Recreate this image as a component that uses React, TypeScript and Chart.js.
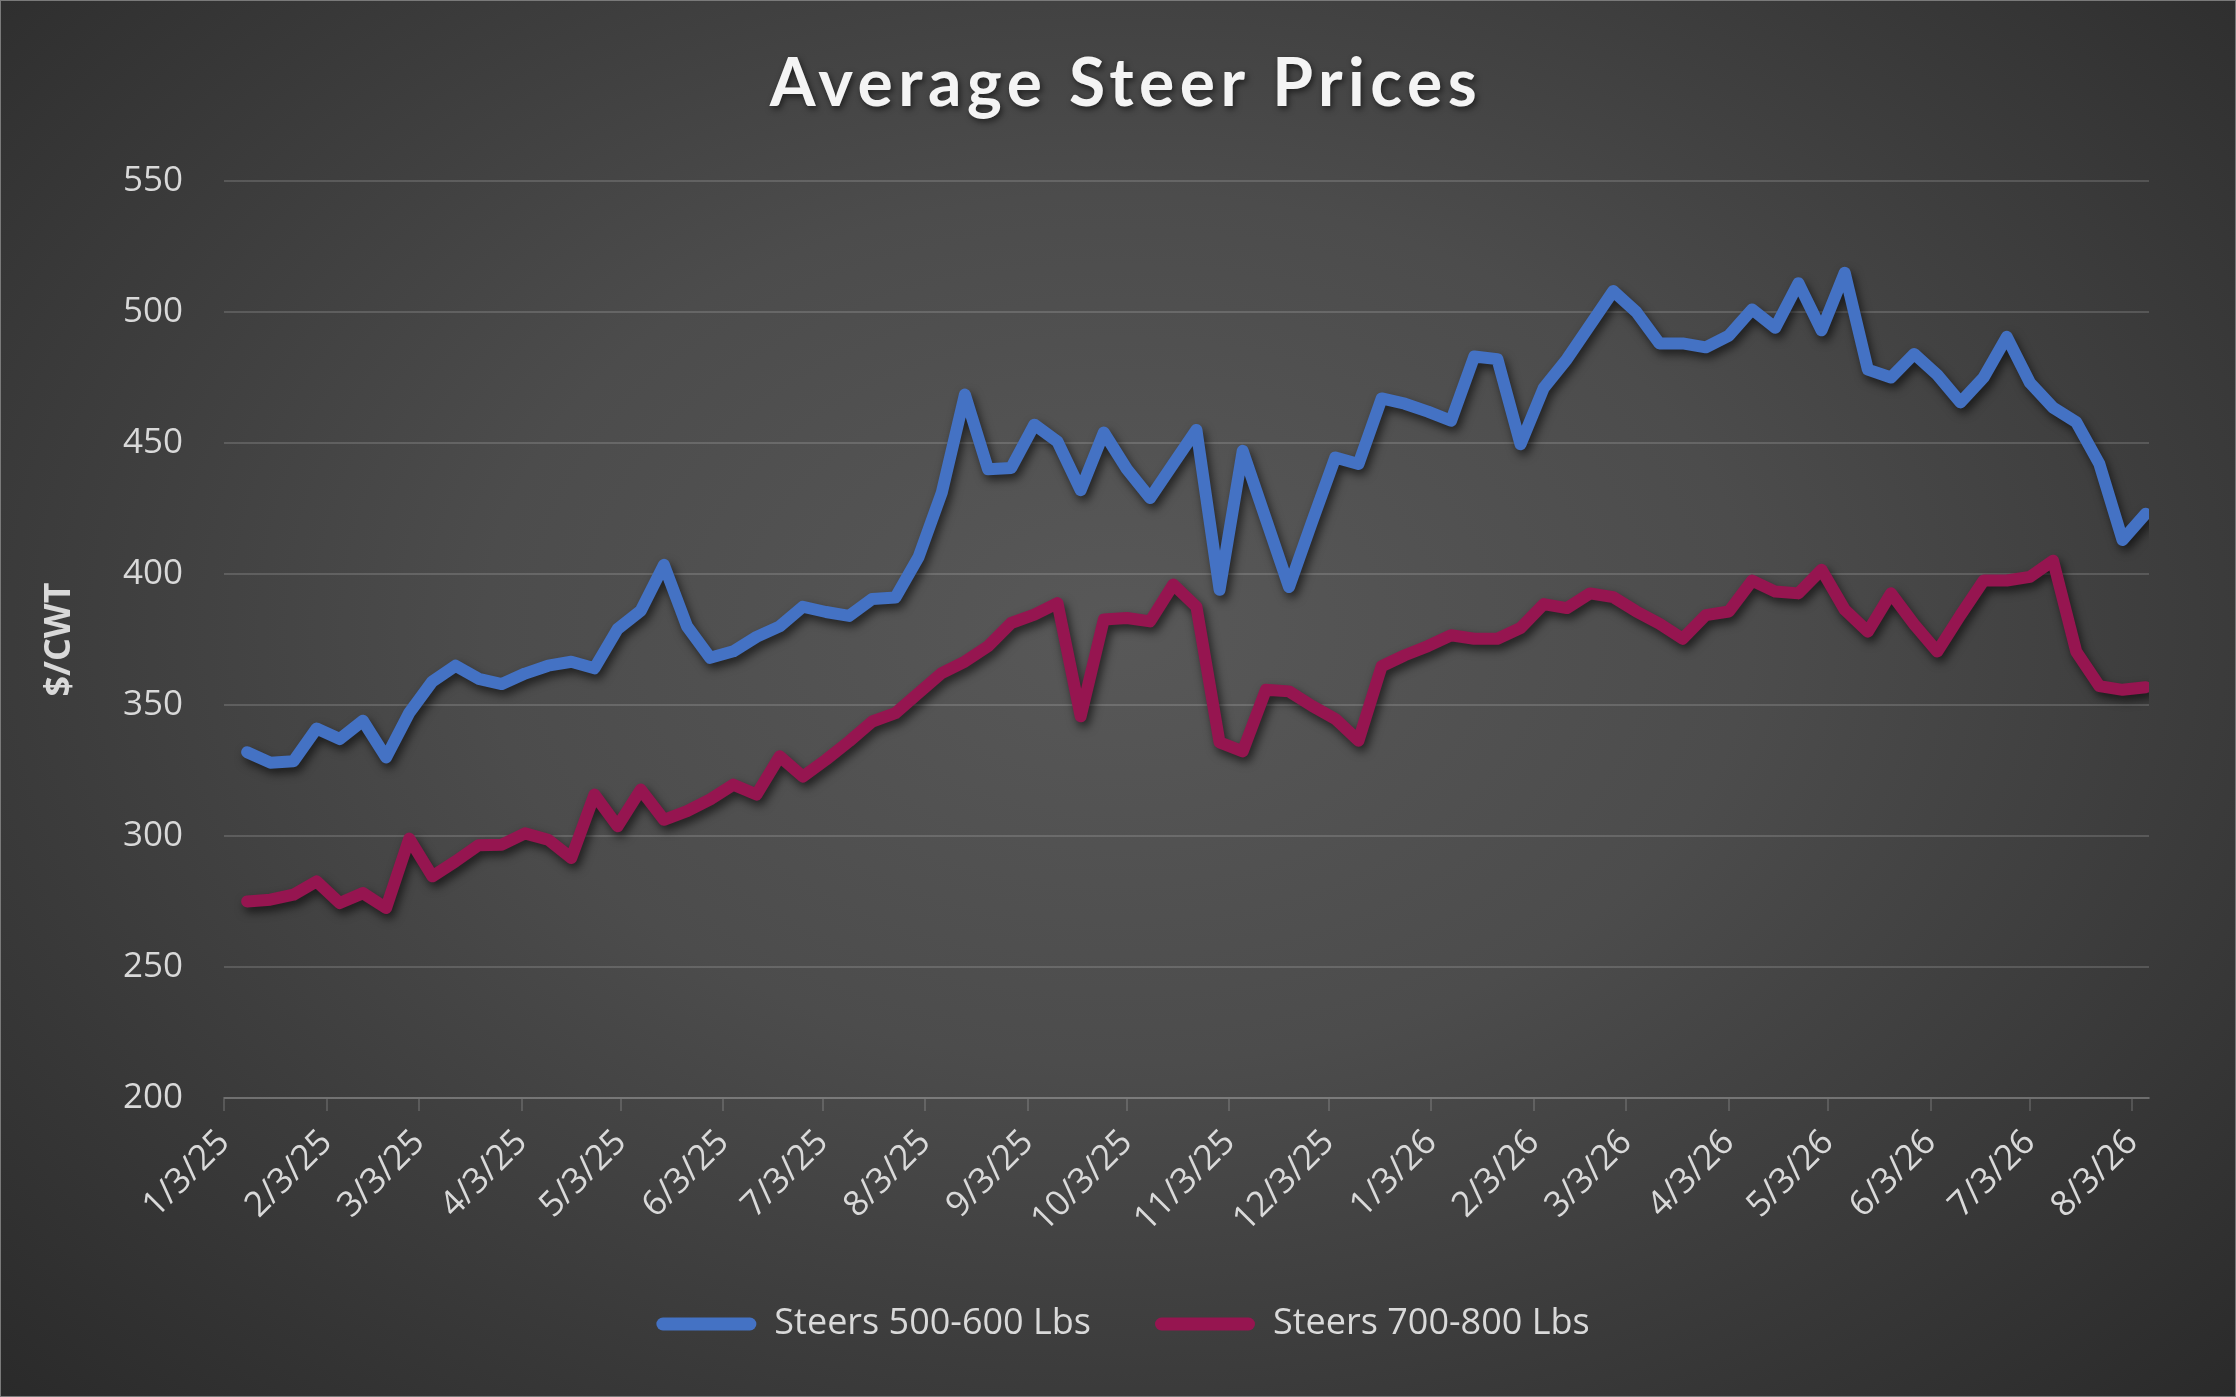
import { useEffect, useRef } from "react";
import { Chart, registerables } from "chart.js";

Chart.register(...registerables);

const TITLE = "Average Steer Prices";
const Y_TITLE = "$/CWT";
const SERIES_A = "Steers 500-600 Lbs";
const SERIES_B = "Steers 700-800 Lbs";

const weekDates = [
  "1/10/25", "1/17/25", "1/24/25", "1/31/25",
  "2/7/25", "2/14/25", "2/21/25", "2/28/25",
  "3/7/25", "3/14/25", "3/21/25", "3/28/25",
  "4/4/25", "4/11/25", "4/18/25", "4/25/25",
  "5/2/25", "5/9/25", "5/16/25", "5/23/25", "5/30/25",
  "6/6/25", "6/13/25", "6/20/25", "6/27/25",
  "7/4/25", "7/11/25", "7/18/25", "7/25/25",
  "8/1/25", "8/8/25", "8/15/25", "8/22/25", "8/29/25",
  "9/5/25", "9/12/25", "9/19/25", "9/26/25",
  "10/3/25", "10/10/25", "10/17/25", "10/24/25", "10/31/25",
  "11/7/25", "11/14/25", "11/21/25", "11/28/25",
  "12/5/25", "12/12/25", "12/19/25", "12/26/25",
  "1/2/26", "1/9/26", "1/16/26", "1/23/26", "1/30/26",
  "2/6/26", "2/13/26", "2/20/26", "2/27/26",
  "3/6/26", "3/13/26", "3/20/26", "3/27/26",
  "4/3/26", "4/10/26", "4/17/26", "4/24/26",
  "5/1/26", "5/8/26", "5/15/26", "5/22/26", "5/29/26",
  "6/5/26", "6/12/26", "6/19/26", "6/26/26",
  "7/3/26", "7/10/26", "7/17/26", "7/24/26", "7/31/26",
  "8/7/26",
];

const steers500600 = [
  332, 328, 328.5, 341, 337, 344, 330, 347, 359, 365,
  360, 358, 362, 365, 366.5, 364, 379, 386, 403.5, 380,
  368, 370.5, 376, 380, 387.5, 385.5, 384, 390.5, 391, 406.5,
  431, 468.5, 440, 440.5, 457, 450.5, 432, 454, 440, 429,
  442, 455, 394, 447, 421, 395, 420, 444.5, 442, 467,
  465, 462, 458.5, 483, 482, 449.5, 471, 482, 495, 508,
  500, 488, 488, 486.5, 491, 501, 494, 511, 493, 515,
  478, 475, 484, 476, 465.5, 475, 490.5, 473, 463.5, 458,
  442, 413, 423,
];

const steers700800 = [
  275, 275.7, 277.6, 282.7, 274.4, 278.2, 272.5, 299, 284.6, 290.3,
  296.5, 296.7, 301, 298.6, 291.6, 315.8, 303.7, 317.7, 306.2, 309.5,
  314, 319.6, 315.8, 330.4, 322.7, 329.1, 336.1, 343.7, 346.9, 354.6,
  362.2, 366.6, 372.4, 381.3, 384.5, 388.9, 345.7, 382.6, 383.2, 381.9,
  396, 387.5, 335.7, 332.3, 355.8, 355.2, 349.6, 344.7, 336.4, 364.8,
  369, 372.5, 376.6, 375.3, 375.3, 379.4, 388.5, 387, 392.6, 391.2,
  385.7, 381, 375.3, 384.3, 385.7, 397.5, 393.3, 392.6, 401.6, 386.4,
  378, 392.6, 380.8, 370.4, 384.3, 397.5, 397.5, 398.9, 405.1, 370.4,
  357.2, 355.8, 356.8,
];

const monthTickLabels = [
  "1/3/25", "2/3/25", "3/3/25", "4/3/25", "5/3/25", "6/3/25", "7/3/25",
  "8/3/25", "9/3/25", "10/3/25", "11/3/25", "12/3/25", "1/3/26", "2/3/26",
  "3/3/26", "4/3/26", "5/3/26", "6/3/26", "7/3/26", "8/3/26",
];

const AXIS_START = "1/3/25";
const AXIS_END = "8/8/26";
const Y_MIN = 200;
const Y_MAX = 550;
const Y_STEP = 50;

const BLUE = "#4472C4";
const MAROON = "#961550";
const TEXT = "#d9d9d9";
const GRID = "rgba(255,255,255,0.15)";

function toUTC(s: string): number {
  const [m, d, y] = s.split("/").map(Number);
  return Date.UTC(2000 + y, m - 1, d);
}
const BASE = toUTC(AXIS_START);
function dayOf(s: string): number {
  return Math.round((toUTC(s) - BASE) / 86400000);
}

const lineShadow = {
  id: "lineShadow",
  beforeDatasetDraw(chart: any) {
    const c = chart.ctx;
    c.save();
    c.shadowColor = "rgba(0,0,0,0.6)";
    c.shadowBlur = 10;
    c.shadowOffsetX = 3;
    c.shadowOffsetY = 5;
  },
  afterDatasetDraw(chart: any) {
    chart.ctx.restore();
  },
};

const legendCenter = {
  id: "legendCenter",
  afterLayout(chart: any) {
    const lg = chart.legend;
    if (lg) {
      lg.left = 10;
      lg.right = chart.width;
    }
  },
};

const spacedTitle = {
  id: "spacedTitle",
  afterDraw(chart: any) {
    const c = chart.ctx;
    c.save();
    c.font = "bold 66px Lato";
    try {
      c.letterSpacing = "5.5px";
    } catch (e) {}
    c.textAlign = "center";
    c.textBaseline = "alphabetic";
    c.fillStyle = "#f4f4f4";
    c.shadowColor = "rgba(0,0,0,0.55)";
    c.shadowBlur = 6;
    c.shadowOffsetX = 2;
    c.shadowOffsetY = 3;
    c.fillText(TITLE, chart.width / 2 + 8, 106);
    c.restore();
  },
};

export default function App() {
  const ref = useRef<HTMLCanvasElement | null>(null);

  useEffect(() => {
    let chart: Chart | null = null;
    let cancelled = false;
    const make = () => {
      if (cancelled || !ref.current) return;
      const tickDays = monthTickLabels.map(dayOf);
      chart = new Chart(ref.current, {
        type: "line",
        data: {
          datasets: [
            {
              label: SERIES_A,
              data: weekDates.map((d, i) => ({ x: dayOf(d), y: steers500600[i] })),
              borderColor: BLUE,
              backgroundColor: BLUE,
              borderWidth: 12,
              pointRadius: 0,
              tension: 0,
              borderJoinStyle: "round",
              borderCapStyle: "round",
              fill: false,
            },
            {
              label: SERIES_B,
              data: weekDates.map((d, i) => ({ x: dayOf(d), y: steers700800[i] })),
              borderColor: MAROON,
              backgroundColor: MAROON,
              borderWidth: 12,
              pointRadius: 0,
              tension: 0,
              borderJoinStyle: "round",
              borderCapStyle: "round",
              fill: false,
            },
          ],
        },
        options: {
          responsive: false,
          animation: false,
          devicePixelRatio: 1,
          events: [],
          layout: { padding: { top: 181, left: 0, right: 87, bottom: 45 } },
          scales: {
            x: {
              type: "linear",
              min: dayOf(AXIS_START),
              max: dayOf(AXIS_END),
              afterBuildTicks: (scale: any) => {
                scale.ticks = tickDays.map((v) => ({ value: v }));
              },
              afterFit: (scale: any) => {
                const lg = scale.chart.legend;
                const lh = lg && lg.height ? lg.height : 112;
                scale.height = 1397 - 45 - lh - 1098;
              },
              grid: {
                drawOnChartArea: false,
                drawTicks: true,
                tickLength: 13,
                color: GRID,
                lineWidth: 2,
              },
              border: { display: true, color: GRID, width: 2 },
              ticks: {
                autoSkip: false,
                maxRotation: 45,
                minRotation: 45,
                padding: 11,
                color: TEXT,
                font: { family: '"Open Sans"', size: 35 },
                callback: (value: any) => {
                  const idx = tickDays.indexOf(Number(value));
                  return idx >= 0 ? monthTickLabels[idx] : "";
                },
              },
            },
            y: {
              min: Y_MIN,
              max: Y_MAX,
              afterFit: (scale: any) => {
                scale.width = 224;
              },
              grid: { color: GRID, lineWidth: 2, drawTicks: false },
              border: { display: false },
              ticks: {
                stepSize: Y_STEP,
                padding: 41,
                color: TEXT,
                font: { family: '"Open Sans"', size: 35 },
              },
              title: {
                display: true,
                text: Y_TITLE,
                color: TEXT,
                padding: { top: 38, bottom: 0 },
                font: { family: '"Open Sans"', size: 36, weight: "bold" },
              },
            },
          },
          plugins: {
            title: { display: false },
            tooltip: { enabled: false },
            legend: {
              display: true,
              position: "bottom",
              labels: {
                color: TEXT,
                font: { family: '"Open Sans"', size: 36 },
                boxWidth: 100,
                boxHeight: 13,
                padding: 64,
                useBorderRadius: true,
                borderRadius: 6.5,
                generateLabels: (ch: any) =>
                  ch.data.datasets.map((ds: any, i: number) => ({
                    text: ds.label,
                    fillStyle: ds.borderColor,
                    strokeStyle: ds.borderColor,
                    lineWidth: 0,
                    borderRadius: 6.5,
                    fontColor: TEXT,
                    hidden: false,
                    datasetIndex: i,
                  })),
              },
            },
          },
        },
        plugins: [lineShadow, legendCenter, spacedTitle],
      } as any);
    };
    const fonts = (document as any).fonts;
    if (fonts && fonts.load) {
      Promise.all([
        fonts.load('35px "Open Sans"'),
        fonts.load('bold 36px "Open Sans"'),
        fonts.load("bold 66px Lato"),
      ])
        .catch(() => null)
        .then(make);
    } else {
      make();
    }
    return () => {
      cancelled = true;
      if (chart) chart.destroy();
    };
  }, []);

  return (
    <div
      style={{
        position: "fixed",
        left: 0,
        top: 0,
        width: 2236,
        height: 1397,
        background:
          "radial-gradient(ellipse at 50% 45%, #585858 0%, #4c4c4c 40%, #2a2a2a 100%)",
        boxShadow: "inset 0 0 0 1px #7a7a7a",
        overflow: "hidden",
      }}
    >
      <canvas ref={ref} width={2236} height={1397} style={{ display: "block" }} />
    </div>
  );
}
